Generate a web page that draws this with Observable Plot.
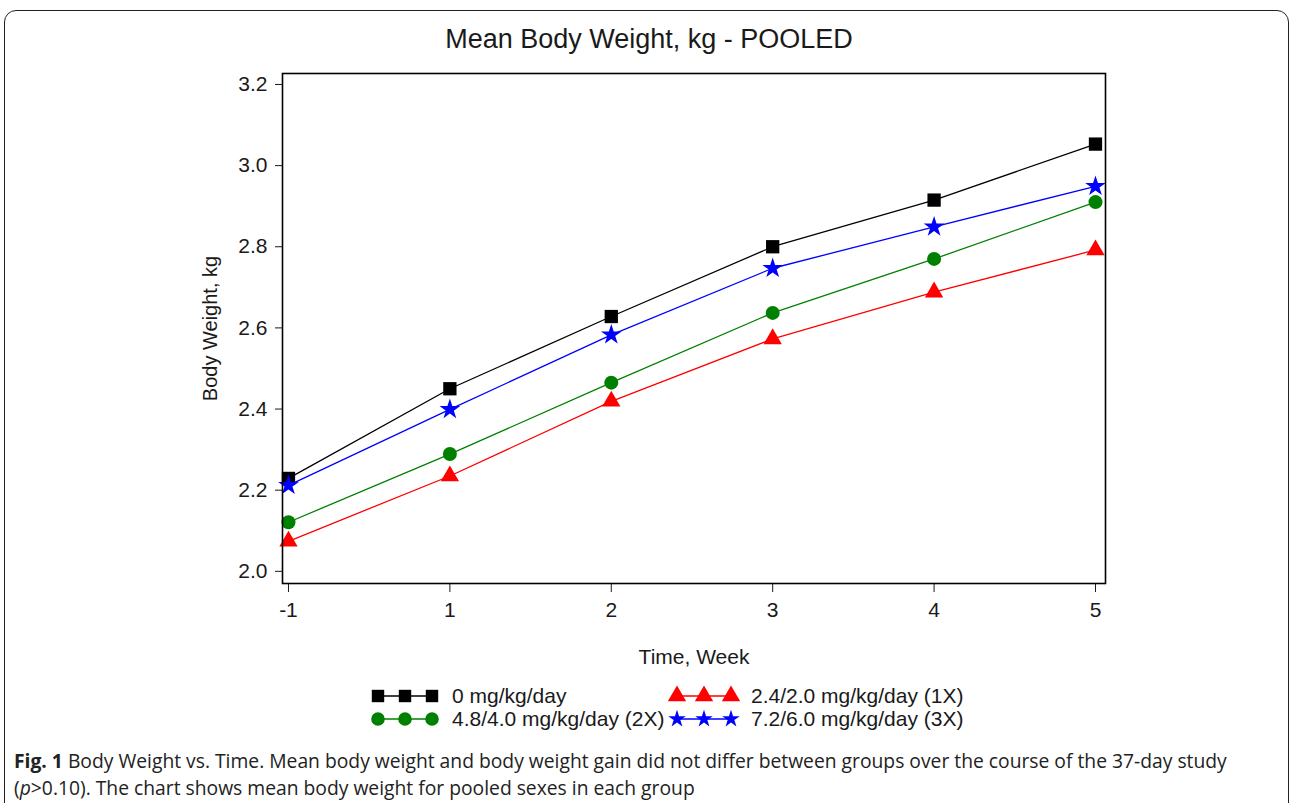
<!DOCTYPE html>
<html>
<head>
<meta charset="utf-8">
<script src="https://cdn.jsdelivr.net/npm/d3@7"></script>
<script src="https://cdn.jsdelivr.net/npm/@observablehq/plot@0.6"></script>
<style>
  html, body { margin: 0; padding: 0; background: #fff; }
  body { width: 1292px; height: 803px; position: relative; overflow: hidden; font-family: "Liberation Sans", Arial, sans-serif; }
  #border { position: absolute; left: 4px; top: 10px; width: 1283px; height: 840px; border: 1.5px solid #222; border-radius: 12px; }
  #title { position: absolute; left: 0; width: 1298px; top: 24px; line-height: 30px; text-align: center; font-size: 27px; color: #1a1a1a; }
  #chart { position: absolute; left: 0; top: 0; }
  .leg { position: absolute; font-size: 21px; color: #1a1a1a; display: flex; align-items: center; height: 24px; white-space: nowrap; }
  .leg svg { margin-right: 8px; }
  #caption { position: absolute; left: 14px; top: 747px; width: 1275px; font-family: "Open Sans", sans-serif; font-size: 19.3px; line-height: 27px; color: #222; white-space: nowrap; }
  #caption b { font-weight: 700; }
</style>
</head>
<body>
<div id="border"></div>
<div id="title">Mean Body Weight, kg - POOLED</div>
<div id="chart"></div>
<div id="legend"></div>
<div id="caption"><b>Fig. 1</b> Body Weight vs. Time. Mean body weight and body weight gain did not differ between groups over the course of the 37-day study<br>(<i>p</i>&gt;0.10). The chart shows mean body weight for pooled sexes in each group</div>
<script>
// ---- data ----
const weeks = ["-1", "1", "2", "3", "4", "5"];
const groupNames = ["0 mg/kg/day", "2.4/2.0 mg/kg/day (1X)", "4.8/4.0 mg/kg/day (2X)", "7.2/6.0 mg/kg/day (3X)"];
const control = [2.229, 2.450, 2.628, 2.800, 2.915, 3.053];
const dose1X  = [2.074, 2.235, 2.419, 2.573, 2.688, 2.792];
const dose2X  = [2.121, 2.289, 2.465, 2.637, 2.770, 2.910];
const dose3X  = [2.212, 2.399, 2.583, 2.747, 2.849, 2.949];
const yTicks = [2.0, 2.2, 2.4, 2.6, 2.8, 3.0, 3.2];

// ---- styles ----
const series = [
  {name: groupNames[0], values: control, color: "#000000", symbol: "square",   r: 7.5, lr: 7},
  {name: groupNames[3], values: dose3X,  color: "#0000ff", symbol: "star",     r: 6.5, lr: 5.5},
  {name: groupNames[2], values: dose2X,  color: "#008000", symbol: "circle",   r: 7,   lr: 6.8},
  {name: groupNames[1], values: dose1X,  color: "#ff0000", symbol: "triangle", r: 6.8, lr: 6.8}
];

const marks = [];
for (const s of series) {
  const rows = s.values.map((v, i) => ({i, v}));
  marks.push(Plot.line(rows, {x: "i", y: "v", stroke: s.color, strokeWidth: 1.3}));
}
for (const s of series) {
  const rows = s.values.map((v, i) => ({i, v}));
  marks.push(Plot.dot(rows, {x: "i", y: "v", fill: s.color, symbol: s.symbol, r: s.r, stroke: "none"}));
}
marks.push(Plot.frame({stroke: "#000", strokeWidth: 1.6}));

const chart = Plot.plot({
  width: 1292, height: 680,
  marginTop: 73, marginLeft: 282, marginRight: 187, marginBottom: 97,
  style: {fontFamily: "'Liberation Sans', Arial, sans-serif", fontSize: "21px", color: "#1a1a1a", background: "transparent"},
  x: {type: "linear", domain: [-0.037, 5.062], ticks: [0, 1, 2, 3, 4, 5], tickFormat: i => weeks[i],
      label: "Time, Week", labelAnchor: "center", labelArrow: "none", labelOffset: 80, tickSize: 9, tickPadding: 10},
  y: {domain: [1.970, 3.227], ticks: yTicks, tickFormat: d3.format(".1f"),
      label: "Body Weight, kg", labelAnchor: "center", labelArrow: "none", labelOffset: 80, tickSize: 7, tickPadding: 8},
  marks
});
document.getElementById("chart").appendChild(chart);
chart.querySelectorAll("[aria-label='y-axis label'] text").forEach(t => t.setAttribute("font-size", "20px"));

// ---- legend ----
const legendPos = [
  {s: series[0], x: 368, y: 684},
  {s: series[3], x: 667, y: 684},
  {s: series[2], x: 368, y: 707},
  {s: series[1], x: 667, y: 707}
];
const symMap = {square: d3.symbolSquare, star: d3.symbolStar, circle: d3.symbolCircle, triangle: d3.symbolTriangle};
const legend = document.getElementById("legend");
for (const p of legendPos) {
  const div = document.createElement("div");
  div.className = "leg";
  div.style.left = p.x + "px";
  div.style.top = p.y + "px";
  const svg = d3.create("svg").attr("width", 76).attr("height", 24);
  svg.append("line").attr("x1", 10).attr("x2", 64).attr("y1", 12).attr("y2", 12).attr("stroke", p.s.color).attr("stroke-width", 1.6);
  const size = Math.PI * p.s.lr * p.s.lr;
  for (const cx of [10, 37, 64]) {
    svg.append("path").attr("d", d3.symbol(symMap[p.s.symbol], size)()).attr("transform", `translate(${cx},12)`).attr("fill", p.s.color);
  }
  div.appendChild(svg.node());
  const span = document.createElement("span");
  span.textContent = p.s.name;
  div.appendChild(span);
  legend.appendChild(div);
}
</script>
</body>
</html>
